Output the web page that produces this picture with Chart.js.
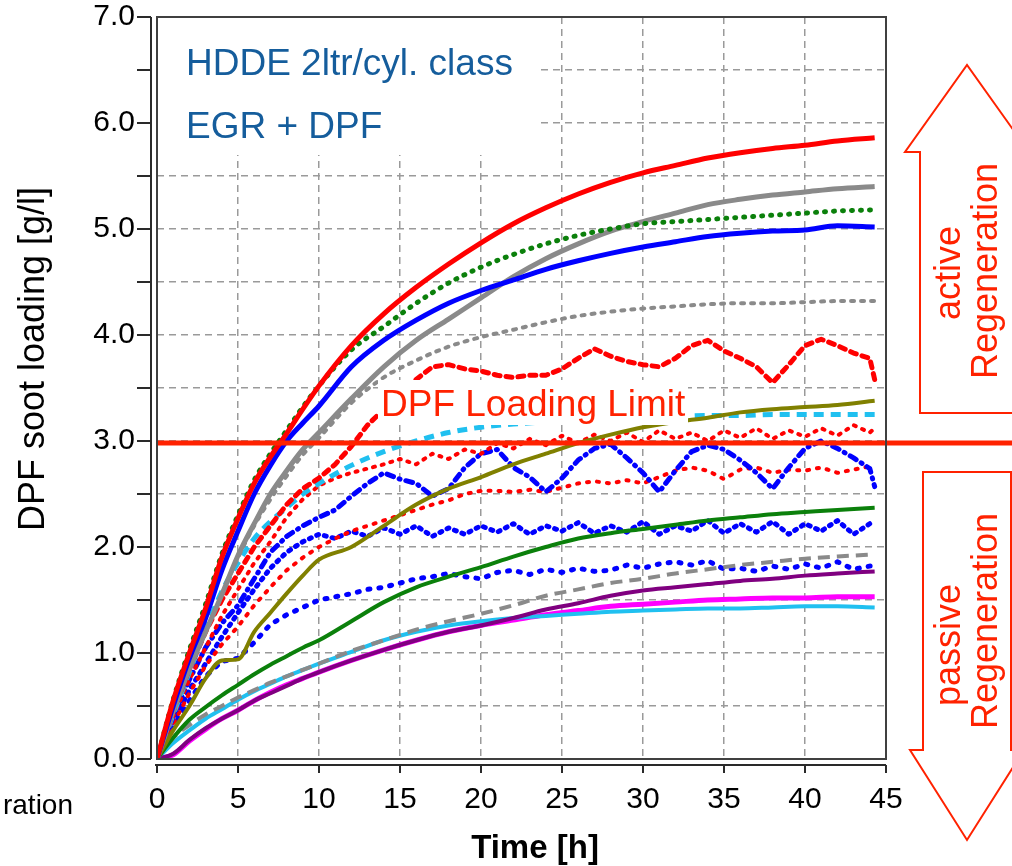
<!DOCTYPE html>
<html>
<head>
<meta charset="utf-8">
<title>DPF soot loading</title>
<script src="https://cdn.jsdelivr.net/npm/chart.js@4.4.0/dist/chart.umd.min.js"></script>
<style>
  html, body { margin: 0; padding: 0; background: #fff; }
  #wrap { width: 1012px; height: 866px; }
</style>
</head>
<body>
<div id="wrap"><canvas id="sootChart" width="1012" height="866"></canvas></div>
<script>
// time bases [h]
const hoursCoarse = [0, 1, 2, 3, 4, 5, 6, 7, 8, 9, 10, 12, 14, 16, 18, 20, 22, 24, 26, 28, 30, 32, 34, 36, 38, 40, 42, 44.3];
const hoursFine = [0, 1, 2, 3, 4, 5, 6, 7, 8, 9, 10, 11, 12, 13, 14, 15, 16, 17, 18, 19, 20, 21, 22,
  23, 24, 25, 26, 27, 28, 29, 30, 31, 32, 33, 34, 35, 36, 37, 38, 39, 40, 41, 42, 43, 44, 44.3];

// soot loading [g/l], smooth runs (hoursCoarse)
const redSolid    = [0, 0.55, 1.0, 1.42, 1.9, 2.27, 2.6, 2.85, 3.07, 3.3, 3.52, 3.9, 4.2, 4.45, 4.67, 4.87, 5.05, 5.2, 5.33, 5.44, 5.53, 5.6, 5.67, 5.72, 5.76, 5.79, 5.83, 5.86];
const greenDotted = [0, 0.56, 1.03, 1.46, 1.93, 2.3, 2.63, 2.88, 3.1, 3.32, 3.52, 3.86, 4.08, 4.3, 4.49, 4.64, 4.76, 4.86, 4.94, 5.0, 5.05, 5.07, 5.09, 5.11, 5.13, 5.15, 5.17, 5.18];
const graySolid   = [0, 0.45, 0.85, 1.2, 1.55, 1.92, 2.22, 2.5, 2.72, 2.92, 3.08, 3.4, 3.7, 3.95, 4.15, 4.35, 4.55, 4.72, 4.86, 4.98, 5.07, 5.15, 5.23, 5.28, 5.32, 5.35, 5.38, 5.4];
const blueSolid   = [0, 0.5, 0.95, 1.33, 1.78, 2.15, 2.5, 2.77, 3.0, 3.17, 3.33, 3.7, 3.95, 4.14, 4.3, 4.42, 4.52, 4.62, 4.7, 4.77, 4.83, 4.88, 4.93, 4.96, 4.98, 4.99, 5.03, 5.02];
const grayDotted  = [0, 0.45, 0.85, 1.2, 1.55, 1.9, 2.2, 2.45, 2.67, 2.87, 3.03, 3.36, 3.6, 3.76, 3.89, 3.98, 4.05, 4.12, 4.18, 4.22, 4.25, 4.27, 4.29, 4.3, 4.3, 4.31, 4.32, 4.32];
const cyanDashed  = [0, 0.42, 0.82, 1.22, 1.58, 1.85, 2.08, 2.24, 2.37, 2.5, 2.6, 2.77, 2.9, 3.0, 3.08, 3.13, 3.16, 3.18, 3.2, 3.21, 3.22, 3.23, 3.24, 3.24, 3.25, 3.25, 3.25, 3.25];
const oliveSolid  = [0, 0.27, 0.5, 0.76, 0.93, 0.94, 1.2, 1.38, 1.56, 1.73, 1.88, 2.0, 2.2, 2.4, 2.55, 2.66, 2.78, 2.88, 2.98, 3.06, 3.13, 3.18, 3.22, 3.27, 3.3, 3.32, 3.34, 3.38];
const greenSolid  = [0, 0.2, 0.37, 0.49, 0.6, 0.7, 0.8, 0.89, 0.97, 1.05, 1.12, 1.3, 1.48, 1.62, 1.72, 1.81, 1.91, 2.0, 2.08, 2.13, 2.17, 2.21, 2.25, 2.28, 2.31, 2.33, 2.35, 2.37];
const grayDashed  = [0, 0.2, 0.32, 0.42, 0.5, 0.58, 0.65, 0.72, 0.78, 0.84, 0.9, 1.02, 1.12, 1.22, 1.3, 1.37, 1.45, 1.54, 1.6, 1.66, 1.7, 1.75, 1.79, 1.83, 1.86, 1.89, 1.91, 1.93];
const purpleSolid = [0, 0.05, 0.18, 0.29, 0.38, 0.46, 0.55, 0.62, 0.69, 0.76, 0.82, 0.93, 1.03, 1.12, 1.2, 1.26, 1.33, 1.41, 1.47, 1.54, 1.59, 1.62, 1.65, 1.68, 1.7, 1.73, 1.75, 1.77];
const magentaSolid= [0, 0.04, 0.17, 0.28, 0.38, 0.46, 0.55, 0.63, 0.7, 0.76, 0.82, 0.93, 1.03, 1.12, 1.2, 1.26, 1.31, 1.36, 1.4, 1.44, 1.46, 1.48, 1.5, 1.51, 1.52, 1.52, 1.53, 1.53];
const cyanSolid   = [0, 0.15, 0.27, 0.38, 0.47, 0.56, 0.64, 0.71, 0.78, 0.84, 0.9, 1.01, 1.12, 1.2, 1.26, 1.3, 1.33, 1.35, 1.37, 1.39, 1.4, 1.41, 1.42, 1.42, 1.43, 1.44, 1.44, 1.43];

// noisy / regenerating runs (hoursFine)
const redDashDot  = [0, 0.45, 0.85, 1.2, 1.5, 1.75, 2.0, 2.2, 2.4, 2.55, 2.65, 2.78, 2.95, 3.15, 3.3, 3.45, 3.58, 3.7, 3.72, 3.68, 3.66,
  3.62, 3.6, 3.62, 3.62, 3.68, 3.78, 3.87, 3.8, 3.75, 3.72, 3.7, 3.78, 3.9, 3.95, 3.85, 3.78, 3.7, 3.55, 3.72, 3.9, 3.96, 3.9, 3.83, 3.78, 3.58];
const redDotted   = [0, 0.4, 0.75, 1.05, 1.35, 1.6, 1.85, 2.05, 2.28, 2.45, 2.58, 2.65, 2.7, 2.74, 2.78, 2.83, 2.78, 2.88, 2.83, 2.92, 2.88,
  2.98, 2.93, 3.02, 2.96, 3.05, 2.98, 3.06, 3.0, 3.08, 2.99, 3.1, 3.02, 3.08, 3.0, 3.1, 3.03, 3.12, 3.02, 3.1, 3.04, 3.12, 3.05, 3.15, 3.08, 3.12];
const redDottedLow= [0, 0.33, 0.62, 0.88, 1.08, 1.25, 1.45, 1.62, 1.78, 1.9, 2.0, 2.08, 2.15, 2.2, 2.25, 2.3, 2.35, 2.4, 2.44, 2.5, 2.53,
  2.53, 2.52, 2.54, 2.52, 2.56, 2.6, 2.62, 2.6, 2.63, 2.6, 2.66, 2.72, 2.75, 2.72, 2.64, 2.73, 2.75, 2.7, 2.73, 2.72, 2.75, 2.7, 2.73, 2.76, 2.76];
const blueDashDot = [0, 0.4, 0.75, 1.05, 1.28, 1.45, 1.7, 1.95, 2.1, 2.2, 2.28, 2.35, 2.48, 2.6, 2.7, 2.64, 2.6, 2.48, 2.55, 2.75, 2.88,
  2.92, 2.75, 2.66, 2.52, 2.65, 2.82, 2.93, 2.97, 2.84, 2.7, 2.52, 2.72, 2.9, 2.96, 2.92, 2.82, 2.7, 2.55, 2.75, 2.93, 3.0, 2.93, 2.84, 2.74, 2.57];
const blueDotted  = [0, 0.35, 0.65, 0.9, 1.15, 1.38, 1.6, 1.8, 1.95, 2.05, 2.12, 2.08, 2.15, 2.1, 2.18, 2.12, 2.2, 2.1, 2.18, 2.12, 2.2,
  2.14, 2.22, 2.12, 2.2, 2.15, 2.23, 2.13, 2.2, 2.14, 2.24, 2.12, 2.2, 2.15, 2.25, 2.13, 2.22, 2.14, 2.24, 2.12, 2.22, 2.15, 2.25, 2.12, 2.22, 2.2];
const blueDottedLow=[0, 0.3, 0.55, 0.78, 0.92, 0.95, 1.1, 1.27, 1.36, 1.43, 1.5, 1.53, 1.56, 1.6, 1.62, 1.66, 1.7, 1.72, 1.75, 1.72, 1.7,
  1.76, 1.78, 1.74, 1.79, 1.76, 1.8, 1.77, 1.78, 1.83, 1.8, 1.84, 1.86, 1.83, 1.87, 1.79, 1.8, 1.77, 1.82, 1.79, 1.84, 1.8, 1.86, 1.79, 1.82, 1.82];

const xTicks = [0, 5, 10, 15, 20, 25, 30, 35, 40, 45];
const yTicks = [0, 1, 2, 3, 4, 5, 6, 7];
const loadingLimit = 2.98;

const FONT = "'Liberation Sans', Arial, Helvetica, sans-serif";
const ANNO_RED = '#ff2200';

function toPoints(hours, vals) {
  return hours.map((h, i) => ({ x: h, y: vals[i] }));
}

function line(label, hours, vals, color, width, dash, round) {
  return {
    label: label,
    data: toPoints(hours, vals),
    borderColor: color,
    borderWidth: width,
    borderDash: dash || [],
    borderCapStyle: round ? 'round' : 'butt',
    borderJoinStyle: 'round',
    pointRadius: 0,
    fill: false,
    tension: 0,
    cubicInterpolationMode: hours === hoursCoarse ? 'monotone' : 'default'
  };
}

const datasets = [
  line('red solid', hoursCoarse, redSolid, '#ff0000', 5),
  line('green dotted', hoursCoarse, greenDotted, '#0b800b', 5, [1, 8], true),
  line('blue solid', hoursCoarse, blueSolid, '#0000ff', 5),
  line('gray solid', hoursCoarse, graySolid, '#8a8a8a', 5),
  line('gray dotted', hoursCoarse, grayDotted, '#8a8a8a', 4, [3, 7], true),
  line('red dash-dot', hoursFine, redDashDot, '#ff0000', 5, [6, 6], true),
  line('olive', hoursCoarse, oliveSolid, '#808000', 4),
  line('cyan dashed', hoursCoarse, cyanDashed, '#20c0f0', 5, [10, 7]),
  line('red dotted', hoursFine, redDotted, '#ff0000', 4, [2, 7], true),
  line('blue dash-dot', hoursFine, blueDashDot, '#0000ff', 5, [7, 6, 1, 6], true),
  line('red dotted low', hoursFine, redDottedLow, '#ff0000', 4, [2, 8], true),
  line('green solid', hoursCoarse, greenSolid, '#0b800b', 4),
  line('blue dotted', hoursFine, blueDotted, '#0000ff', 5, [2, 6], true),
  line('gray dashed', hoursCoarse, grayDashed, '#8a8a8a', 4, [12, 7]),
  line('blue dotted low', hoursFine, blueDottedLow, '#0000ff', 5, [2, 9], true),
  line('purple', hoursCoarse, purpleSolid, '#800080', 4),
  line('cyan solid', hoursCoarse, cyanSolid, '#20c0f0', 4),
  line('magenta', hoursCoarse, magentaSolid, '#ff00ff', 5)
];

function rotatedText(ctx, text, x, y, font, color, baseline) {
  ctx.save();
  ctx.translate(x, y);
  ctx.rotate(-Math.PI / 2);
  ctx.font = font;
  ctx.fillStyle = color;
  ctx.textAlign = 'center';
  ctx.textBaseline = baseline || 'alphabetic';
  ctx.fillText(text, 0, 0);
  ctx.restore();
}

function arrow(ctx, pts) {
  ctx.save();
  ctx.beginPath();
  pts.forEach((p, i) => (i ? ctx.lineTo(p[0], p[1]) : ctx.moveTo(p[0], p[1])));
  ctx.closePath();
  ctx.fillStyle = '#fff';
  ctx.fill();
  ctx.strokeStyle = ANNO_RED;
  ctx.lineWidth = 2;
  ctx.stroke();
  ctx.restore();
}

const decorations = {
  id: 'decorations',
  beforeDatasetsDraw(chart) {
    const { ctx, chartArea: a } = chart;
    // white box behind the engine text
    ctx.save();
    ctx.fillStyle = '#fff';
    ctx.fillRect(a.left + 1, a.top + 1, 383, 137);
    ctx.font = '37px ' + FONT;
    ctx.fillStyle = '#155d9c';
    ctx.textAlign = 'left';
    ctx.textBaseline = 'alphabetic';
    ctx.fillText('HDDE 2ltr/cyl. class', 186, 75);
    ctx.fillText('EGR + DPF', 186, 138);
    ctx.restore();
  },
  afterDatasetsDraw(chart) {
    const { ctx, chartArea: a, scales: { x, y } } = chart;
    ctx.save();

    // loading limit line
    const yl = y.getPixelForValue(loadingLimit);
    ctx.strokeStyle = ANNO_RED;
    ctx.lineWidth = 5;
    ctx.beginPath();
    ctx.moveTo(a.left, yl);
    ctx.lineTo(chart.width, yl);
    ctx.stroke();

    // limit label
    ctx.fillStyle = '#fff';
    ctx.fillRect(378, 380, 310, 45);
    ctx.font = '37px ' + FONT;
    ctx.fillStyle = ANNO_RED;
    ctx.textAlign = 'left';
    ctx.textBaseline = 'alphabetic';
    ctx.fillText('DPF Loading Limit', 381, 416);

    // plot frame
    ctx.strokeStyle = '#404040';
    ctx.lineWidth = 2;
    ctx.strokeRect(a.left, a.top, a.right - a.left, a.bottom - a.top);

    // offset axis lines with tick marks
    ctx.strokeStyle = '#2a2a2a';
    ctx.lineWidth = 2;
    const ax = a.left - 6;
    ctx.beginPath();
    ctx.moveTo(ax, a.top);
    ctx.lineTo(ax, a.bottom);
    y.ticks.forEach(t => {
      const py = y.getPixelForValue(t.value);
      ctx.moveTo(ax - 14, py);
      ctx.lineTo(ax, py);
    });
    const ay = a.bottom + 6;
    ctx.moveTo(a.left - 2, ay);
    ctx.lineTo(a.right, ay);
    x.ticks.forEach(t => {
      const px = x.getPixelForValue(t.value);
      ctx.moveTo(px, ay);
      ctx.lineTo(px, ay + 8);
    });
    ctx.stroke();

    // axis titles
    rotatedText(ctx, 'DPF soot loading [g/l]', 34, 359, '36px ' + FONT, '#000', 'middle');
    ctx.font = 'bold 33px ' + FONT;
    ctx.fillStyle = '#000';
    ctx.textAlign = 'center';
    ctx.textBaseline = 'alphabetic';
    ctx.fillText('Time [h]', 535, 858);

    // cropped neighbour label
    ctx.font = '28px ' + FONT;
    ctx.textAlign = 'right';
    ctx.fillText('ration', 73, 814);

    // regeneration arrows
    arrow(ctx, [[920, 413], [920, 152], [905, 152], [967, 65], [1029, 152], [1014, 152], [1014, 413]]);
    arrow(ctx, [[923, 472], [1011, 472], [1011, 750], [1024, 750], [967, 840], [910, 750], [923, 750]]);
    const f36 = '36px ' + FONT;
    rotatedText(ctx, 'active', 960, 273, f36, ANNO_RED);
    rotatedText(ctx, 'Regeneration', 997, 271, f36, ANNO_RED);
    rotatedText(ctx, 'passive', 960, 645, f36, ANNO_RED);
    rotatedText(ctx, 'Regeneration', 997, 621, f36, ANNO_RED);

    ctx.restore();
  }
};

const gridColor = (edgeA, edgeB) => (c) =>
  (c.tick && (c.tick.value === edgeA || c.tick.value === edgeB)) ? 'rgba(0,0,0,0)' : '#9a9a9a';

new Chart(document.getElementById('sootChart'), {
  type: 'line',
  data: { datasets: datasets },
  options: {
    responsive: false,
    animation: false,
    devicePixelRatio: 1,
    layout: { padding: { left: 0, top: 17, right: 126, bottom: 0 } },
    plugins: { legend: { display: false }, tooltip: { enabled: false } },
    scales: {
      x: {
        type: 'linear',
        min: xTicks[0],
        max: xTicks[xTicks.length - 1],
        afterFit: (s) => { s.height = 107; },
        afterBuildTicks: (s) => { s.ticks = xTicks.map(v => ({ value: v })); },
        ticks: { padding: 0, color: '#000', font: { family: FONT, size: 30, lineHeight: 1.1 } },
        grid: { color: gridColor(0, 45), lineWidth: 1.5, drawTicks: true, tickLength: 24, tickColor: 'rgba(0,0,0,0)' },
        border: { display: false, dash: [7, 5] }
      },
      y: {
        type: 'linear',
        min: 0,
        max: 7,
        afterFit: (s) => { s.width = 157; },
        ticks: {
          stepSize: 0.5,
          autoSkip: false,
          padding: 0,
          color: '#000',
          font: { family: FONT, size: 30, lineHeight: 1.1 },
          callback: (v) => (yTicks.includes(v) ? v.toFixed(1) : '')
        },
        grid: { color: gridColor(0, 7), lineWidth: 1.5, drawTicks: true, tickLength: 22, tickColor: 'rgba(0,0,0,0)' },
        border: { display: false, dash: [7, 5] }
      }
    }
  },
  plugins: [decorations]
});
</script>
</body>
</html>
